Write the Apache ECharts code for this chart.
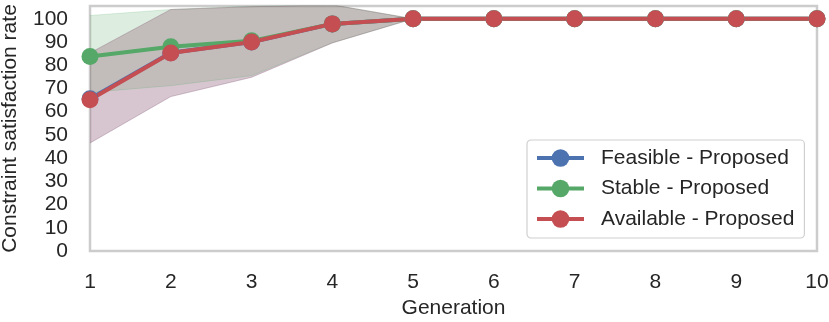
<!DOCTYPE html>
<html>
<head>
<meta charset="utf-8">
<style>
  html, body { margin: 0; padding: 0; background: #fff; }
  #chart { width: 829px; height: 322px; }
</style>
<script src="https://cdn.jsdelivr.net/npm/echarts@6/dist/echarts.min.js"></script>
</head>
<body>
<div id="chart"></div>
<script>
const generations = ['1', '2', '3', '4', '5', '6', '7', '8', '9', '10'];
const yTicks = [0, 10, 20, 30, 40, 50, 60, 70, 80, 90, 100];

// mean rate and confidence band per method
const feasibleMean = [65.6, 85.4, 90, 97.8, 100, 100, 100, 100, 100, 100];
const feasibleLow = [46.5, 66.5, 74.8, 89.6, 100, 100, 100, 100, 100, 100];
const feasibleHigh = [85.3, 104, 105.2, 106, 100, 100, 100, 100, 100, 100];

const stableMean = [83.8, 88, 90.5, 97.8, 100, 100, 100, 100, 100, 100];
const stableLow = [68.3, 71.2, 75.5, 89.7, 100, 100, 100, 100, 100, 100];
const stableHigh = [101.4, 104, 105.5, 106, 100, 100, 100, 100, 100, 100];

const availableMean = [65.1, 85.3, 90, 97.8, 100, 100, 100, 100, 100, 100];
const availableLow = [46.5, 66.5, 74.8, 89.6, 100, 100, 100, 100, 100, 100];
const availableHigh = [85.3, 104, 105.2, 106, 100, 100, 100, 100, 100, 100];

const FONT = 'Arial, "Liberation Sans", sans-serif';
const TEXT = '#262626';

const chart = echarts.init(document.getElementById('chart'));

// lower edge + stacked width gives the shaded band
function band(key, low, high, color) {
  const edge = { color: color, opacity: 0.2, width: 1 };
  return [
    {
      name: key + '-low', type: 'line', data: low, stack: key,
      symbol: 'none', lineStyle: edge, silent: true, z: 1
    },
    {
      name: key + '-band', type: 'line', data: high.map((h, i) => h - low[i]), stack: key,
      symbol: 'none', lineStyle: edge, areaStyle: { color: color, opacity: 0.2 },
      silent: true, z: 1
    }
  ];
}

function meanLine(name, values, color) {
  return {
    name: name, type: 'line', data: values,
    symbol: 'circle', symbolSize: 17,
    lineStyle: { color: color, width: 4 },
    itemStyle: { color: color },
    z: 3
  };
}

const option = {
  animation: false,
  grid: {
    left: 90, right: 12, top: 6, bottom: 71,
    show: true, borderColor: '#cccccc', borderWidth: 2.5,
    outerBoundsMode: 'none'
  },
  legend: {
    data: ['Feasible - Proposed', 'Stable - Proposed', 'Available - Proposed'],
    orient: 'vertical', left: 527, top: 140,
    itemWidth: 47, itemHeight: 22, itemGap: 8.5,
    padding: [7, 10, 8, 8],
    backgroundColor: '#fff', borderColor: '#d0d0d0', borderWidth: 1.2, borderRadius: 4,
    lineStyle: { width: 4 },
    textStyle: { fontFamily: FONT, fontSize: 21, color: TEXT, padding: [0, 0, 0, 12], lineHeight: 22 }
  },
  xAxis: {
    type: 'category',
    data: generations,
    boundaryGap: false,
    name: 'Generation', nameLocation: 'middle', nameGap: 43,
    nameTextStyle: { fontFamily: FONT, fontSize: 21, color: TEXT },
    axisLine: { show: false },
    axisTick: { show: false },
    axisLabel: { fontFamily: FONT, fontSize: 21, color: TEXT, margin: 21 },
    splitLine: { show: false }
  },
  yAxis: {
    type: 'value',
    min: 0, max: 105.5, interval: 10,
    name: 'Constraint satisfaction rate', nameLocation: 'middle', nameGap: 69,
    nameTextStyle: { fontFamily: FONT, fontSize: 21, color: TEXT },
    axisLine: { show: false },
    axisTick: { show: false },
    splitLine: { show: false },
    axisLabel: {
      fontFamily: FONT, fontSize: 21, color: TEXT, margin: 22,
      showMaxLabel: false,
      formatter: v => (yTicks.includes(v) ? String(v) : '')
    }
  },
  series: [
    ...band('feasible', feasibleLow, feasibleHigh, '#4C72B0'),
    ...band('stable', stableLow, stableHigh, '#55A868'),
    ...band('available', availableLow, availableHigh, '#C44E52'),
    meanLine('Feasible - Proposed', feasibleMean, '#4C72B0'),
    meanLine('Stable - Proposed', stableMean, '#55A868'),
    meanLine('Available - Proposed', availableMean, '#C44E52')
  ]
};

chart.setOption(option);
</script>
</body>
</html>
